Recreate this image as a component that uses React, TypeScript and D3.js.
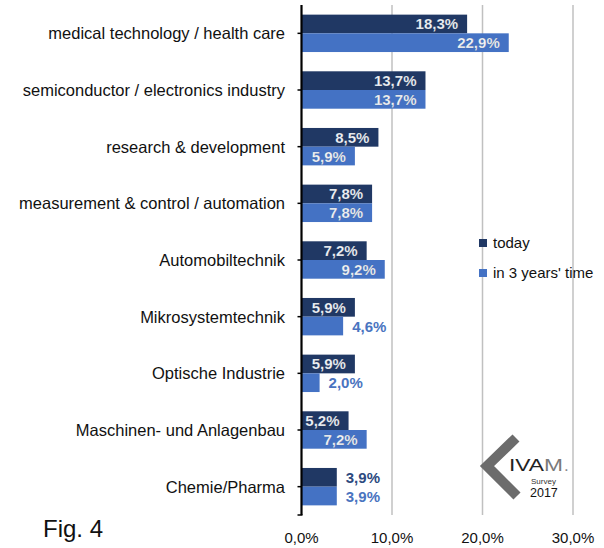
import React from 'react';
import * as d3 from 'd3';

const categories = [
  'medical technology / health care',
  'semiconductor / electronics industry',
  'research & development',
  'measurement & control / automation',
  'Automobiltechnik',
  'Mikrosystemtechnik',
  'Optische Industrie',
  'Maschinen- und Anlagenbau',
  'Chemie/Pharma',
];
const today = [18.3, 13.7, 8.5, 7.8, 7.2, 5.9, 5.9, 5.2, 3.9];
const in3Years = [22.9, 13.7, 5.9, 7.8, 9.2, 4.6, 2.0, 7.2, 3.9];
const seriesNames = ['today', "in 3 years' time"];
const xTicks = [0, 10, 20, 30];

const W = 604;
const H = 548;
const font = '"Liberation Sans Narrow", "Arial Narrow", "Liberation Sans", sans-serif';
const dark = '#203864';
const light = '#4472C4';

const fmt = (v: number) => v.toFixed(1).replace('.', ',') + '%';

export default function App() {
  const x = d3.scaleLinear().domain([0, 30]).range([301.5, 573]);
  const y = d3.scaleBand<string>().domain(categories).range([5, 515]).paddingInner(0.34).paddingOuter(0.17);
  const sub = d3.scaleBand<number>().domain([0, 1]).range([0, y.bandwidth()]);
  const series = [today, in3Years];
  const colors = [dark, light];
  const step = y.step();

  return (
    <svg width={W} height={H} style={{ position: 'absolute', left: 0, top: 0, background: '#fff' }}>
      {/* gridlines */}
      {xTicks.slice(1).map((t) => (
        <line key={t} x1={x(t)} x2={x(t)} y1={5} y2={515} stroke="#c0c0c0" strokeWidth={1.5} />
      ))}
      {/* bars */}
      {categories.map((c, i) =>
        series.map((s, j) => {
          const v = s[i];
          const y0 = (y(c) as number) + (sub(j) as number);
          const h = sub.bandwidth();
          const x1 = x(v);
          const inside = x1 - x(0) > 45;
          return (
            <g key={c + j}>
              <rect x={x(0)} y={y0} width={x1 - x(0)} height={h} fill={colors[j]} />
              <text
                x={inside ? x1 - 9 : x1 + 9}
                y={y0 + h / 2 + 5.5}
                textAnchor={inside ? 'end' : 'start'}
                fontFamily={font}
                fontWeight="bold"
                fontSize={15}
                fill={inside ? '#eef2f8' : colors[j] === dark ? '#2d4a80' : '#4a74c0'}
                stroke={inside ? 'rgba(60,60,60,0.25)' : 'none'}
                strokeWidth={0.5}
              >
                {fmt(v)}
              </text>
            </g>
          );
        })
      )}
      {/* left axis */}
      <line x1={x(0)} x2={x(0)} y1={5} y2={515} stroke="#000" strokeWidth={2.2} />
      <line x1={x(0) - 4} x2={x(0) + 1} y1={515} y2={515} stroke="#000" strokeWidth={1.5} />
      {categories.map((c) => {
        const cy = (y(c) as number) - step * 0.17 + step / 2;
        return (
          <g key={c}>
            <line x1={x(0) - 4} x2={x(0)} y1={cy} y2={cy} stroke="#000" strokeWidth={1.5} />
            <text x={285} y={cy + 6} textAnchor="end" fontFamily={font} fontSize={16.5} fill="#111">
              {c}
            </text>
          </g>
        );
      })}
      {/* x tick labels */}
      {xTicks.map((t) => (
        <text key={t} x={x(t)} y={543} textAnchor="middle" fontFamily={font} fontSize={15} fill="#111">
          {fmt(t)}
        </text>
      ))}
      {/* legend */}
      {seriesNames.map((n, j) => (
        <g key={n} transform={`translate(479, ${239 + j * 30})`}>
          <rect x={0} y={0} width={8} height={8} fill={colors[j]} />
          <text x={14} y={8.5} fontFamily={font} fontSize={15} fill="#111">
            {n}
          </text>
        </g>
      ))}
      {/* Fig. 4 */}
      <text x={43} y={537} fontFamily={font} fontSize={24} fill="#111">
        Fig. 4
      </text>
      {/* IVAM logo */}
      <g>
        <polyline points="516,438 487,466 517,496" fill="none" stroke="#6c6c6c" strokeWidth={10} />
        <text x={509} y={471} fontFamily={font} fontSize={17} fill="#222" textLength={54} lengthAdjust="spacingAndGlyphs">
          IVA<tspan fill="#7a7a7a">M</tspan>
        </text>
        <text x={564} y={471} fontFamily={font} fontSize={17} fill="#8a8a8a">.</text>
        <text x={531} y={484} fontFamily={font} fontSize={8} fill="#333">
          Survey
        </text>
        <text x={530} y={497} fontFamily={font} fontSize={12.5} fill="#111">
          2017
        </text>
      </g>
    </svg>
  );
}
